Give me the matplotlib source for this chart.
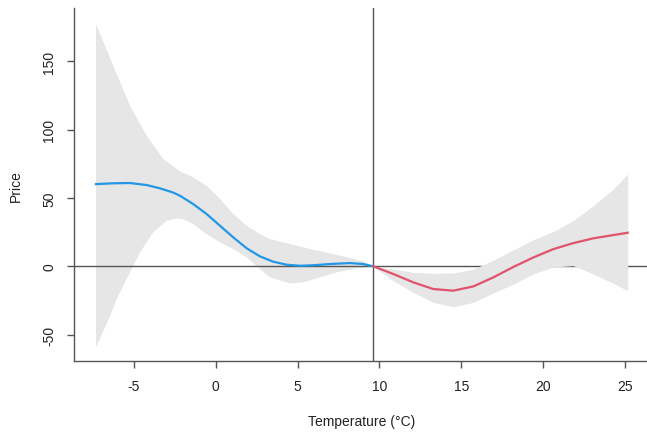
import matplotlib
matplotlib.use("Agg")
import matplotlib.pyplot as plt

plt.rcParams['font.family'] = ['Liberation Sans', 'DejaVu Sans']

# Threshold temperature separating the cold and warm branches
threshold = 9.63

# Cold branch (below threshold): fitted effect and confidence limits
cold_x = [-7.32, -6.27, -5.24, -4.22, -3.41, -2.6, -2.19, -1.38, -0.56, 0.26, 1.07,
          1.89, 2.7, 3.51, 4.33, 5.15, 5.96, 6.98, 8.2, 9.0, 9.63]
cold_fit = [60.2, 60.8, 61.0, 59.5, 57.1, 54.0, 51.7, 45.6, 38.3, 29.7, 21.2,
            13.2, 7.3, 3.4, 1.2, 0.4, 0.8, 1.7, 2.4, 1.7, 0.0]

cold_up_x = [-7.32, -6.27, -5.24, -4.22, -3.21, -2.19, -1.38, -0.56, 0.26, 1.07,
             1.89, 2.7, 3.31, 4.54, 5.76, 6.98, 8.2, 9.0, 9.63]
cold_up = [177.4, 146.9, 117.6, 95.6, 78.6, 69.5, 65.2, 59.0, 49.3, 38.3,
           29.7, 23.6, 20.0, 16.3, 12.7, 9.5, 6.1, 3.7, 0.0]

cold_lo_x = [-7.32, -6.47, -6.06, -5.45, -4.63, -3.82, -3.0, -2.39, -1.99, -1.38,
             -0.56, 0.26, 1.07, 1.89, 2.7, 3.31, 4.54, 5.35, 6.37, 7.39, 8.61, 9.63]
cold_lo = [-59.3, -36.5, -24.0, -9.3, 10.2, 24.9, 33.4, 35.0, 34.6, 31.0,
           23.6, 17.6, 12.7, 6.6, -2.0, -8.0, -12.5, -11.7, -8.1, -4.4, -1.5, 0.0]

# Warm branch (above threshold)
warm_x = [9.63, 10.85, 12.07, 13.29, 14.52, 15.74, 16.96, 18.18, 19.41, 20.63,
          21.85, 23.07, 24.3, 25.18]
warm_fit = [0.0, -5.6, -11.7, -16.6, -17.8, -14.7, -8.1, -0.5, 6.5, 12.6,
            17.0, 20.5, 22.9, 24.6]
warm_up = [0.0, -2.0, -4.4, -5.1, -4.9, -2.0, 4.5, 12.0, 19.5, 25.5,
           33.5, 44.4, 56.6, 67.6]
warm_lo = [0.0, -10.5, -19.0, -26.4, -29.6, -26.4, -19.5, -13.0, -5.5, -0.5,
           0.5, -5.5, -12.5, -17.8]

x_ticks = [-5, 0, 5, 10, 15, 20, 25]
y_ticks = [-50, 0, 50, 100, 150]

band_col = "#E6E6E6"
axis_col = "#555555"
text_col = "#222222"

fig = plt.figure(figsize=(6.47, 4.35), dpi=100)
ax = fig.add_axes([0.1148, 0.1678, 0.8883, 0.8108])

# cold confidence band
ax.fill(cold_up_x + cold_lo_x[::-1], cold_up + cold_lo[::-1],
        color=band_col, lw=0, zorder=1)
# reference lines
ax.axhline(0, color=axis_col, lw=1.0, zorder=2)
ax.axvline(threshold, color=axis_col, lw=1.0, zorder=2)
# warm confidence band
ax.fill_between(warm_x, warm_lo, warm_up, color=band_col, lw=0, zorder=3)

ax.plot(cold_x, cold_fit, color="#2297E6", lw=1.6, zorder=4)
ax.plot(warm_x, warm_fit, color="#DF536B", lw=1.6, zorder=4)

ax.set_xlim(-8.65, 26.48)
ax.set_ylim(-69.3, 188.9)
ax.set_xticks(x_ticks)
ax.set_xticklabels([str(v) for v in x_ticks])
ax.set_yticks(y_ticks)
ax.set_yticklabels([str(v) for v in y_ticks], rotation=90, va='center')

for s in ("top", "right"):
    ax.spines[s].set_visible(False)
for s in ("left", "bottom"):
    ax.spines[s].set_color(axis_col)
    ax.spines[s].set_linewidth(1.0)

ax.tick_params(axis='both', direction='out', length=5, width=1.0,
               color=axis_col, labelcolor=text_col, labelsize=10)
ax.tick_params(axis='x', pad=8)
ax.tick_params(axis='y', pad=8)

fig.text(362 / 647, 1 - 426.5 / 435, "Temperature (°C)", ha='center', va='baseline',
         fontsize=10, color=text_col)
fig.text(15.8 / 647, 1 - 185.8 / 435, "Price", ha='center', va='center',
         rotation=90, fontsize=10, color=text_col)

fig.savefig("out.png", dpi=100)
